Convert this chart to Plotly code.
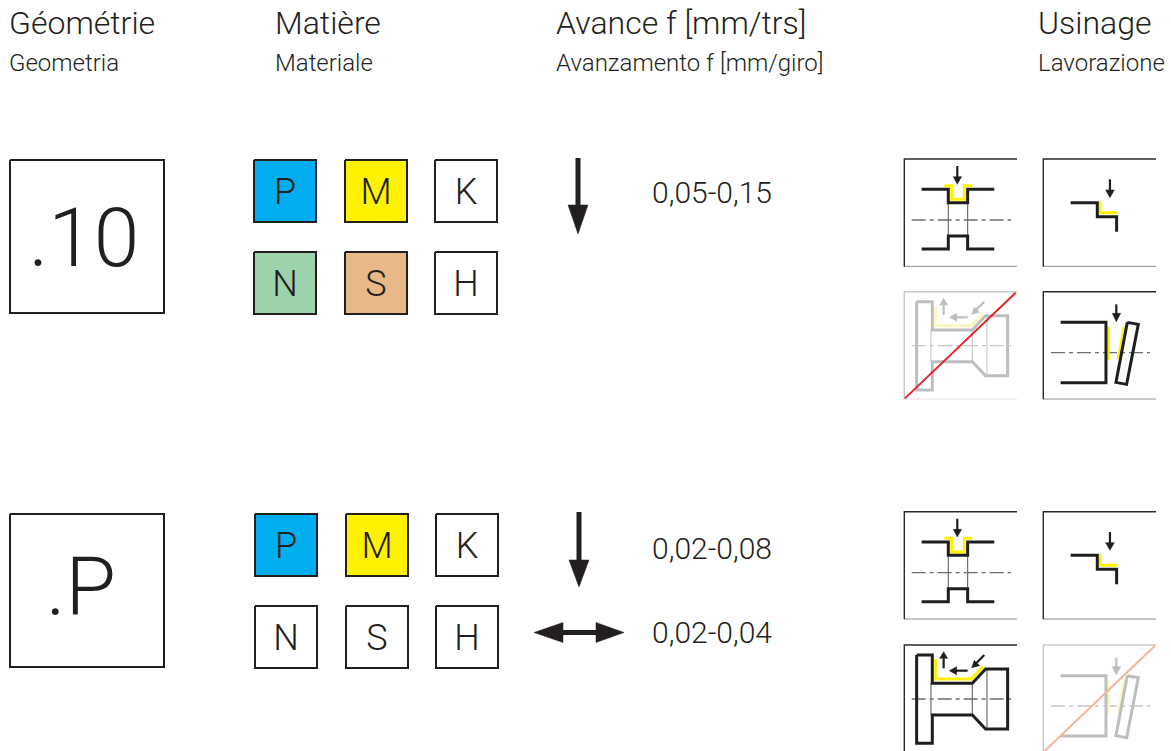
import plotly.graph_objects as go

# ---------- content ----------
HEADERS_FR = ["Géométrie", "Matière", "Avance f [mm/trs]", "Usinage"]
HEADERS_IT = ["Geometria", "Materiale", "Avanzamento f [mm/giro]", "Lavorazione"]
GEOMETRIES = [".10", ".P"]
MATERIALS = ["P", "M", "K", "N", "S", "H"]
FEEDS = ["0,05-0,15", "0,02-0,08", "0,02-0,04"]

# ---------- placement (axes are in page pixels) ----------
HEADER_X = [9, 275, 556, 1038]
HEADER_Y_FR = 26
HEADER_Y_IT = 65
GEO_BOX_X = [10, 164]
GEO_BOX_Y = [(160, 313), (514, 667)]
GEO_TEXT_X = [84, 81]
GEO_TEXT_Y = [245, 594]
MAT_X = [[254, 345, 435], [255, 346, 436]]
MAT_Y = [[160, 252], [514, 606]]
MAT_SIZE = 62
MAT_FILL = [
    ["#00ADEF", "#FFF200", "#FFFFFF", "#9DD3AC", "#E8B888", "#FFFFFF"],
    ["#00ADEF", "#FFF200", "#FFFFFF", "#FFFFFF", "#FFFFFF", "#FFFFFF"],
]
FEED_X = 652
FEED_Y = [195, 551, 635]
INK = "#231F20"

# ---------- pictogram geometry, in local units of 1/3 px from the frame corner ----------
GROOVE = dict(
    profile=[[(52, 91), (132, 91), (132, 131), (190, 131), (190, 91), (270, 91)],
             [(52, 270), (132, 270), (132, 231), (190, 231), (190, 270), (270, 270)]],
    thin=[[(132, 131), (132, 231)], [(190, 131), (190, 231)]],
    yellow=[[(120, 80), (142, 80), (142, 121), (180, 121), (180, 80), (204, 80)]],
    centre=[(22, 183), (320, 183)],
    shafts=[[(159, 21), (159, 58)]],
    heads=[[(147, 53), (172, 53), (159, 76)]],
)
SHOULDER = dict(
    profile=[[(82, 131), (162, 131), (162, 173), (220, 173), (220, 218)]],
    thin=[],
    yellow=[[(170, 128), (170, 161), (223, 161)]],
    centre=None,
    shafts=[[(200, 61), (200, 98)]],
    heads=[[(187, 93), (213, 93), (200, 116)]],
)
COMPLEX = dict(
    profile=[[(37, 30), (84, 30), (84, 115), (204, 115), (244, 72), (310, 72), (310, 252),
              (244, 252), (204, 210), (84, 210), (84, 295), (37, 295), (37, 30)]],
    thin=[[(80, 115), (80, 210)], [(204, 115), (204, 210)], [(248, 72), (248, 252)]],
    yellow=[[(94, 42), (94, 102), (200, 102), (237, 65)]],
    centre=[(22, 162), (320, 162)],
    shafts=[[(118, 70), (118, 35)], [(190, 77), (152, 77)], [(240, 30), (214, 56)]],
    heads=[[(106, 40), (130, 40), (118, 20)], [(157, 65), (157, 89), (135, 77)],
           [(210, 46), (226, 62), (202, 68)]],
)
FACE = dict(
    profile=[[(52, 92), (188, 92), (188, 273), (52, 273)],
             [(252, 92), (285, 98), (250, 278), (218, 272), (252, 92)]],
    thin=[],
    yellow=[[(195, 105), (195, 205)], [(243, 105), (225, 203)]],
    centre=[(23, 183), (320, 183)],
    shafts=[[(219, 38), (219, 70)]],
    heads=[[(207, 65), (232, 65), (219, 90)]],
)
ACTIVE = dict(ink="#1E1E1E", thin="#6E6E6E", yellow="#FFF200", centre="#6E6E6E",
              frame="#2A2A2A", frame_low="#8F8F8F", slash=None)
STRUCK_RED = dict(ink="#BCBEC0", thin="#C8C9CA", yellow="#FBF7BE", centre="#C8C8C8",
                  frame="#C9C9C9", frame_low="#E2E2E2", slash="#E5242A")
STRUCK_PALE = dict(ink="#BCBEC0", thin="#C8C9CA", yellow="#FBF7BE", centre="#C8C8C8",
                   frame="#C9C9C9", frame_low="#E2E2E2", slash="#F6B39B")
ICONS = [
    (GROOVE, 904.3, 159, ACTIVE), (SHOULDER, 1043.3, 159, ACTIVE),
    (COMPLEX, 904.3, 291.7, STRUCK_RED), (FACE, 1043.3, 291.7, ACTIVE),
    (GROOVE, 904.3, 511.7, ACTIVE), (SHOULDER, 1043.3, 511.7, ACTIVE),
    (COMPLEX, 904.3, 645, ACTIVE), (FACE, 1043.3, 645, STRUCK_PALE),
]
FRAME_W, FRAME_H = 338, 322

# ---------- feed arrows in page pixels ----------
V_ARROWS = [(578, 158, 205, 234), (579, 512, 560, 587)]
H_ARROW = (534, 563, 596, 624, 632.5)

FONT = "Roboto"
fig = go.Figure()


def line(pts, color, width, dash=None, fill=None):
    fig.add_trace(go.Scatter(
        x=[p[0] for p in pts], y=[p[1] for p in pts], mode="lines",
        line=dict(color=color, width=width, dash=dash, simplify=False),
        fill="toself" if fill else None, fillcolor=fill,
        hoverinfo="skip", showlegend=False))


def text(x, y, s, size, pos="middle right", color=INK):
    fig.add_trace(go.Scatter(
        x=[x], y=[y], text=[s], mode="text", textposition=pos,
        textfont=dict(family=FONT, size=size, color=color, weight=300),
        hoverinfo="skip", showlegend=False))


def rect(x0, y0, x1, y1, fill="#FFFFFF", width=2):
    line([(x0, y0), (x1, y0), (x1, y1), (x0, y1), (x0, y0)], INK, width, fill=fill)


def icon(shape, ox, oy, pal):
    t = lambda pts: [(ox + a / 3, oy + b / 3) for a, b in pts]
    line(t([(0, FRAME_H), (FRAME_W, FRAME_H)]), pal["frame_low"], 1)
    line(t([(0, FRAME_H + 1), (0, 0), (FRAME_W, 0)]), pal["frame"], 1.4)
    for seg in shape["thin"]:
        line(t(seg), pal["thin"], 1.2)
    if shape["centre"]:
        line(t(shape["centre"]), pal["centre"], 1.3, dash="14px,4px,4px,4px")
    for seg in shape["yellow"]:
        line(t(seg), pal["yellow"], 3)
    for seg in shape["profile"]:
        line(t(seg), pal["ink"], 3)
    for seg in shape["shafts"]:
        line(t(seg), pal["ink"], 2.2)
    for seg in shape["heads"]:
        line(t(seg + seg[:1]), pal["ink"], 0.5, fill=pal["ink"])
    if pal["slash"]:
        line(t([(2, 320), (334, 3)]), pal["slash"], 2)


# headers
for x, fr, it in zip(HEADER_X, HEADERS_FR, HEADERS_IT):
    text(x, HEADER_Y_FR, fr, 32)
    text(x, HEADER_Y_IT, it, 24)

# geometry boxes
for (y0, y1), name, tx, ty in zip(GEO_BOX_Y, GEOMETRIES, GEO_TEXT_X, GEO_TEXT_Y):
    rect(GEO_BOX_X[0], y0, GEO_BOX_X[1], y1)
    text(tx, ty, name, 82, pos="middle center")

# material squares
for block in range(2):
    for i, m in enumerate(MATERIALS):
        x0 = MAT_X[block][i % 3]
        y0 = MAT_Y[block][i // 3]
        rect(x0, y0, x0 + MAT_SIZE, y0 + MAT_SIZE, fill=MAT_FILL[block][i])
        text(x0 + MAT_SIZE / 2, y0 + MAT_SIZE / 2 + 4, m, 36, pos="middle center")

# feed arrows
for x, y0, y1, tip in V_ARROWS:
    line([(x, y0), (x, y1)], INK, 5)
    line([(x - 10, y1), (x + 10, y1), (x, tip), (x - 10, y1)], INK, 0.5, fill=INK)
a, b, c, d, y = H_ARROW
line([(b, y), (c, y)], INK, 5)
line([(a, y), (b, y - 10), (b, y + 10), (a, y)], INK, 0.5, fill=INK)
line([(d, y), (c, y - 10), (c, y + 10), (d, y)], INK, 0.5, fill=INK)

for yy, s in zip(FEED_Y, FEEDS):
    text(FEED_X, yy, s, 30)

for shape, ox, oy, pal in ICONS:
    icon(shape, ox, oy, pal)

fig.update_layout(
    width=1171, height=751, margin=dict(l=0, r=0, t=0, b=0),
    paper_bgcolor="white", plot_bgcolor="white", showlegend=False,
    xaxis=dict(range=[0, 1171], visible=False, fixedrange=True),
    yaxis=dict(range=[751, 0], visible=False, fixedrange=True),
)
fig.write_html("out.html", config=dict(displayModeBar=False),
               post_script="document.body.style.margin='0';document.body.style.overflow='hidden';")
